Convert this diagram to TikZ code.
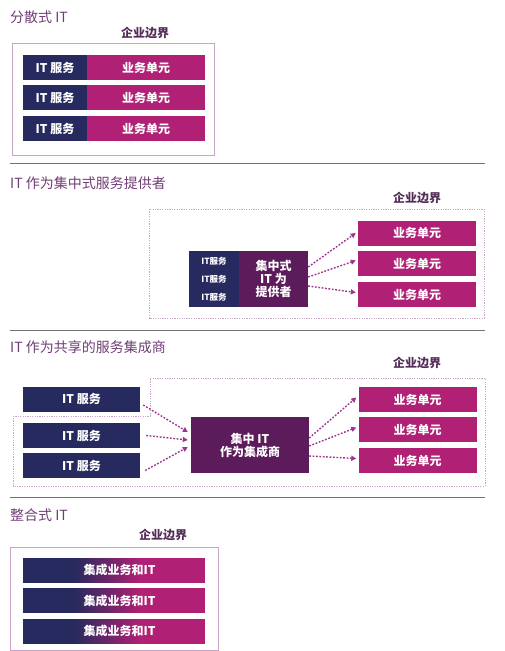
\documentclass[tikz,border=0pt]{standalone}
\usepackage{fontspec}
\setmainfont{Noto Sans CJK SC}
\usetikzlibrary{arrows.meta}
\definecolor{itnavy}{RGB}{38,42,94}
\definecolor{bumag}{RGB}{176,32,116}
\definecolor{hubpurple}{RGB}{92,27,90}
\definecolor{edgelilac}{RGB}{200,165,200}
\definecolor{headplum}{RGB}{112,62,118}
\definecolor{flowplum}{RGB}{155,55,145}
\tikzset{
  headline/.style={anchor=west, text=headplum, font=\fontsize{14}{14}\selectfont, inner sep=0},
  edgename/.style={text=headplum!75!black, font=\bfseries\fontsize{12}{12}\selectfont, inner sep=0},
  tile/.style={text=white, font=\bfseries\fontsize{12}{13}\selectfont, inner sep=0, minimum height=25pt, align=center},
  itbox/.style={tile, fill=itnavy},
  bubox/.style={tile, fill=bumag, minimum width=118pt},
  hubbox/.style={tile, fill=hubpurple, minimum height=56pt},
  edgeline/.style={draw=edgelilac, line width=0.8pt},
  looseline/.style={draw=edgelilac, line width=0.8pt, dash pattern=on 1.2pt off 1.2pt},
  flow/.style={draw=flowplum, line width=1.4pt, dash pattern=on 1.8pt off 1.6pt, -{Triangle[length=5pt,width=5pt]}},
  divider/.style={draw=black!55, line width=0.8pt}
}
\begin{document}
\begin{tikzpicture}[x=1pt,y=-1pt]
\useasboundingbox (0,0) rectangle (505,651);

\node[headline] (t1) at (10,17) {分散式 IT};
\node[edgename] (e1) at (145,33) {企业边界};
\draw[edgeline] (12,43) rectangle (214,155);
\foreach \r/\y in {1/67.5,2/97.5,3/128.5}{
  \node[itbox, minimum width=64pt] (ait\r) at (55,\y) {IT 服务};
  \node[bubox] (abu\r) at (146,\y) {业务单元};
}
\draw[divider] (10,163) -- (485,163);

\node[headline] (t2) at (10,183) {IT 作为集中式服务提供者};
\node[edgename] (e2) at (417,198) {企业边界};
\draw[looseline] (149,209) rectangle (484,318);
\node[itbox, minimum width=50pt, minimum height=56pt] (bit) at (214,279) {};
\foreach \y in {261,279,297}
  \node[text=white, font=\bfseries\fontsize{8.5}{8.5}\selectfont, inner sep=0] at (214,\y) {IT服务};
\node[hubbox, minimum width=69pt] (bhub) at (273.5,279) {集中式\\IT 为\\提供者};
\foreach \r/\y in {1/233,2/263.5,3/294.5}
  \node[bubox] (bbu\r) at (417,\y) {业务单元};
\draw[flow] ([yshift=12pt]bhub.east) -- ([xshift=-2pt]bbu1.west);
\draw[flow] ([yshift=2pt]bhub.east) -- ([xshift=-2pt,yshift=3pt]bbu2.west);
\draw[flow] ([yshift=-7pt]bhub.east) -- ([xshift=-2pt,yshift=2pt]bbu3.west);
\draw[divider] (10,330) -- (485,330);

\node[headline] (t3) at (10,347) {IT 作为共享的服务集成商};
\node[edgename] (e3) at (417,363) {企业边界};
\draw[looseline] (13,416) -- (150,416) -- (150,378) -- (485,378) -- (485,486) -- (13,486) -- cycle;
\foreach \r/\y in {1/399,2/435.5,3/465.5}
  \node[itbox, minimum width=117pt] (cit\r) at (81.5,\y) {IT 服务};
\node[hubbox, minimum width=118pt] (chub) at (250,445) {集中 IT\\作为集成商};
\foreach \r/\y in {1/399.5,2/429.5,3/460.5}
  \node[bubox] (cbu\r) at (417.5,\y) {业务单元};
\draw[flow] ([xshift=3pt,yshift=-6pt]cit1.east) -- ([xshift=-3pt,yshift=13pt]chub.west);
\draw[flow] ([xshift=6pt]cit2.east) -- ([xshift=-3pt,yshift=5pt]chub.west);
\draw[flow] ([xshift=5pt,yshift=-5pt]cit3.east) -- ([xshift=-3pt,yshift=-2pt]chub.west);
\draw[flow] ([yshift=7pt]chub.east) -- ([xshift=-2pt,yshift=2pt]cbu1.west);
\draw[flow] ([yshift=-1pt]chub.east) -- ([xshift=-2pt,yshift=2pt]cbu2.west);
\draw[flow] ([yshift=-11pt]chub.east) -- ([xshift=-2pt,yshift=2pt]cbu3.west);
\draw[divider] (10,497) -- (485,497);

\node[headline] (t4) at (10,515) {整合式 IT};
\node[edgename] (e4) at (163,535) {企业边界};
\draw[edgeline] (10,547) rectangle (218,650);
\foreach \r/\y in {1/570,2/600.5,3/631}{
  \fill[itnavy] (23,\y-12.5) rectangle (73.5,\y+12.5);
  \foreach \i in {0,...,33}{
    \pgfmathtruncatemacro\p{\i*100/33}
    \fill[bumag!\p!itnavy] (73+2*\i,\y-12.5) rectangle (75.5+2*\i,\y+12.5);
  }
  \fill[bumag] (140,\y-12.5) rectangle (205,\y+12.5);
  \node[tile, minimum width=182pt] (dmix\r) at (114,\y) {\hspace*{11pt}集成业务和IT};
}
\end{tikzpicture}
\end{document}
